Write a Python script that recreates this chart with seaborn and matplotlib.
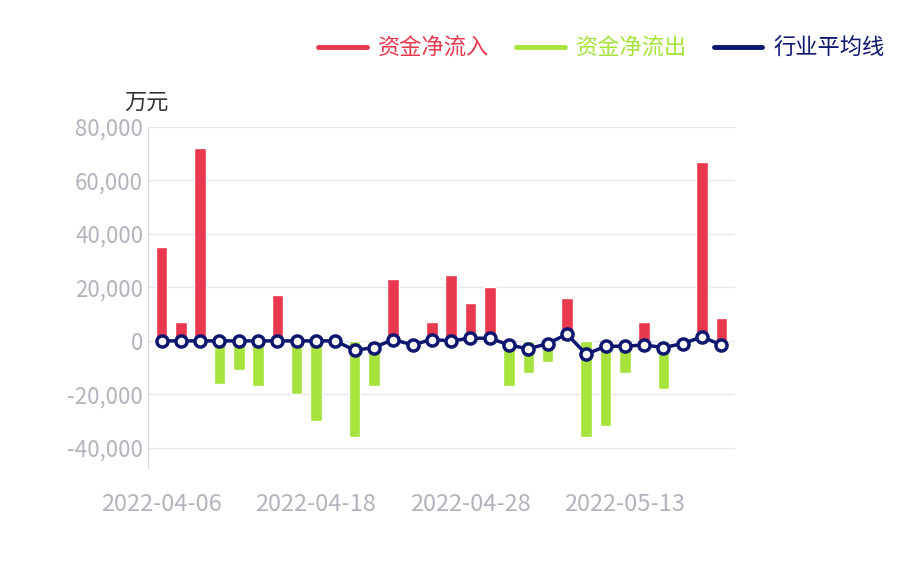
import matplotlib
matplotlib.use("agg")
import matplotlib.pyplot as plt
import seaborn as sns
import numpy as np
import pandas as pd

dates = ["2022-04-06", "2022-04-07", "2022-04-08", "2022-04-11", "2022-04-12", "2022-04-13",
         "2022-04-14", "2022-04-15", "2022-04-18", "2022-04-19", "2022-04-20", "2022-04-21",
         "2022-04-22", "2022-04-25", "2022-04-26", "2022-04-27", "2022-04-28", "2022-04-29",
         "2022-05-05", "2022-05-06", "2022-05-09", "2022-05-10", "2022-05-11", "2022-05-12",
         "2022-05-13", "2022-05-16", "2022-05-17", "2022-05-18", "2022-05-19", "2022-05-20"]
net_flow = [35000, 7000, 72000, -16000, -11000, -17000, 17000, -20000, -30000, 0,
            -36000, -17000, 23000, 0, 7000, 24500, 14000, 20000, -17000, -12000,
            -8000, 16000, -36000, -32000, -12000, 7000, -18000, 0, 67000, 8500]
industry_avg = [0, 0, 0, 0, 0, 0, 0, 0, 0, 0,
                -3500, -2500, 500, -1500, 500, 0, 1000, 1000, -1500, -3000,
                -1000, 2500, -5000, -2000, -2000, -1500, -2500, -1000, 1500, -1500]
tick_dates = ["2022-04-06", "2022-04-18", "2022-04-28", "2022-05-13"]
legend_labels = ["资金净流入", "资金净流出", "行业平均线"]

RED = "#e8394f"
GREEN = "#a6e33c"
NAVY = "#0d1770"
GREY = "#b3b3bd"

sns.set_style("white")
plt.rcParams['font.family'] = ['Noto Sans CJK SC', 'DejaVu Sans']

df = pd.DataFrame({"date": dates, "flow": net_flow, "avg": industry_avg})
df["x"] = np.arange(len(df))
pos = np.where(df["flow"] > 0, df["flow"], 0)
neg = np.where(df["flow"] < 0, df["flow"], 0)

fig = plt.figure(figsize=(9.14, 5.72), dpi=100)
ax = fig.add_axes([0.162, 0.182, 0.642, 0.596])

ax.bar(df["x"], pos, width=0.6, color=RED)
ax.bar(df["x"], neg, width=0.6, color=GREEN)
sns.lineplot(x=df["x"], y=df["avg"], ax=ax, color=NAVY, linewidth=2.5,
             marker="o", markersize=8, markerfacecolor="white",
             markeredgecolor=NAVY, markeredgewidth=2.5, legend=False)

ax.set_ylim(-47500, 80000)
ax.set_xlim(-0.7, len(df) - 0.3)
ax.set_yticks(range(-40000, 80001, 20000))
ax.set_yticklabels([f"{v:,}" for v in range(-40000, 80001, 20000)])
ax.set_xticks([dates.index(d) for d in tick_dates])
ax.set_xticklabels(tick_dates)
ax.tick_params(axis="y", colors=GREY, labelsize=16, length=0)
ax.tick_params(axis="x", colors=GREY, labelsize=17, length=0, pad=18)
ax.grid(axis="y", color="#e4e6ee", linewidth=1)
ax.set_axisbelow(True)
for s in ["top", "right", "bottom"]:
    ax.spines[s].set_visible(False)
ax.spines["left"].set_color("#d8d8e0")
ax.set_xlabel("")
ax.set_ylabel("")
ax.text(-0.04, 1.055, "万元", transform=ax.transAxes, fontsize=16, color="#333333", ha="left")

handles = [plt.Line2D([0], [0], color=c, linewidth=3.5) for c in [RED, GREEN, NAVY]]
leg = fig.legend(handles, legend_labels, loc="upper right", bbox_to_anchor=(0.99, 0.97), ncol=3,
                 frameon=False, fontsize=16, handlelength=2.2, columnspacing=1.2, handletextpad=0.5)
for t, c in zip(leg.get_texts(), [RED, GREEN, NAVY]):
    t.set_color(c)

fig.savefig("out.png", dpi=100)
